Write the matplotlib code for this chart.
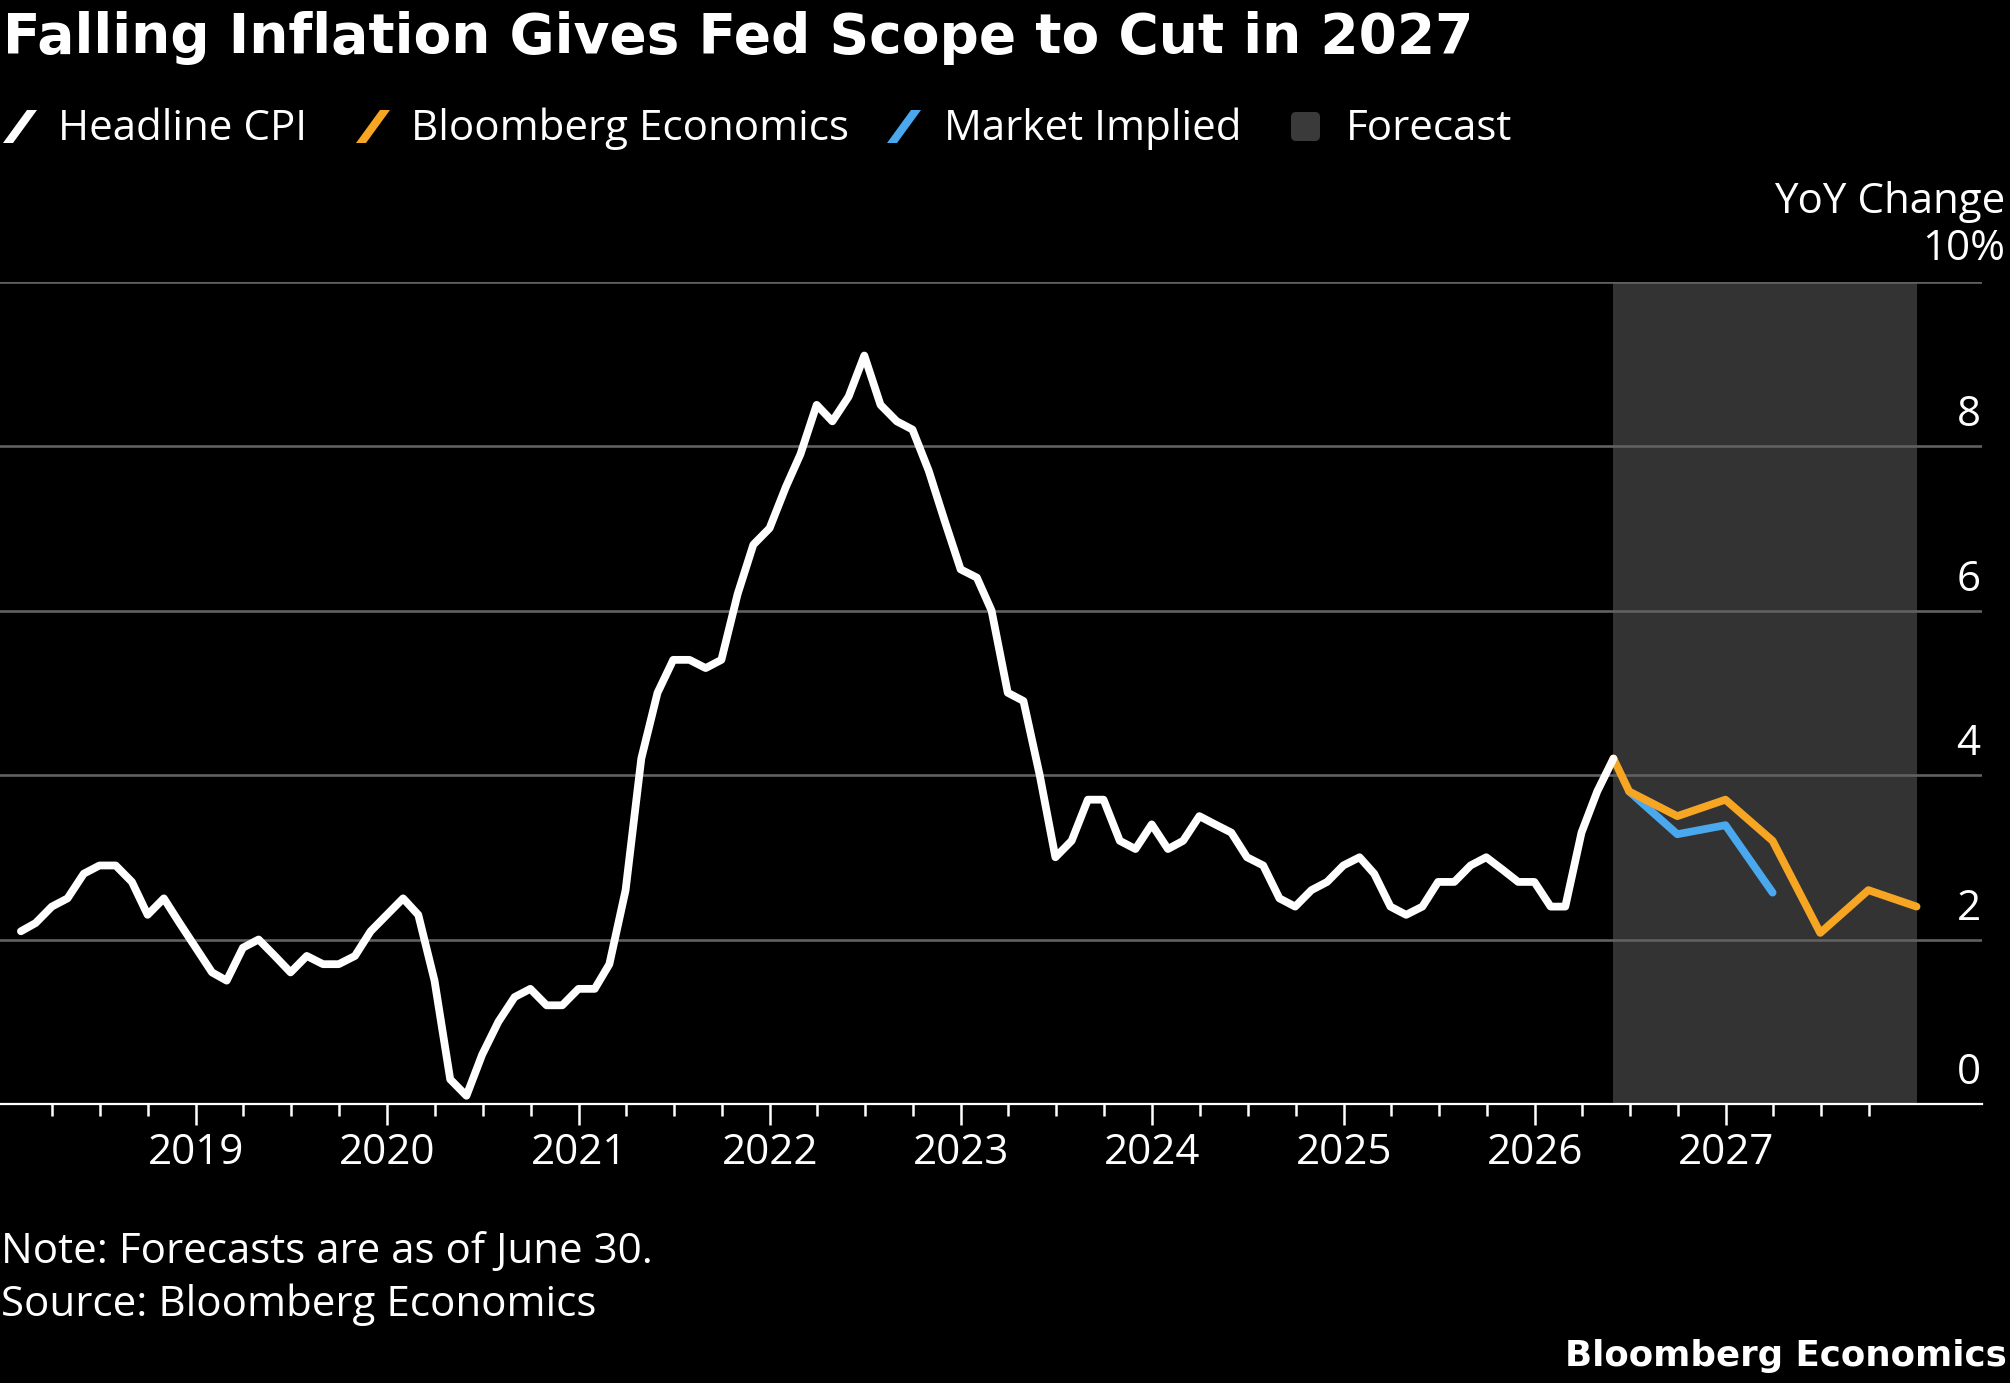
"""Bloomberg-style chart: headline CPI with Bloomberg Economics and market-implied paths."""

import matplotlib

matplotlib.use("Agg")

import matplotlib.dates as mdates
import matplotlib.pyplot as plt
import matplotlib.transforms as mtransforms
import pandas as pd
from matplotlib.patches import FancyBboxPatch, Polygon
from matplotlib.ticker import FixedLocator

# --- data -------------------------------------------------------------------
# Headline CPI, YoY %, monthly from Jan 2018 to May 2026
cpi_start = "2018-01-01"
cpi = [
    2.1, 2.2, 2.4, 2.5, 2.8, 2.9, 2.9, 2.7, 2.3, 2.5, 2.2, 1.9,
    1.6, 1.5, 1.9, 2.0, 1.8, 1.6, 1.8, 1.7, 1.7, 1.8, 2.1, 2.3,
    2.5, 2.3, 1.5, 0.3, 0.1, 0.6, 1.0, 1.3, 1.4, 1.2, 1.2, 1.4,
    1.4, 1.7, 2.6, 4.2, 5.0, 5.4, 5.4, 5.3, 5.4, 6.2, 6.8, 7.0,
    7.5, 7.9, 8.5, 8.3, 8.6, 9.1, 8.5, 8.3, 8.2, 7.7, 7.1, 6.5,
    6.4, 6.0, 5.0, 4.9, 4.0, 3.0, 3.2, 3.7, 3.7, 3.2, 3.1, 3.4,
    3.1, 3.2, 3.5, 3.4, 3.3, 3.0, 2.9, 2.5, 2.4, 2.6, 2.7, 2.9,
    3.0, 2.8, 2.4, 2.3, 2.4, 2.7, 2.7, 2.9, 3.0, 2.85, 2.7, 2.7,
    2.4, 2.4, 3.3, 3.8, 4.2,
]

bbg_months = ["2026-05", "2026-06", "2026-09", "2026-12", "2027-03", "2027-06", "2027-09", "2027-12"]
bbg_forecast = [4.2, 3.8, 3.5, 3.7, 3.2, 2.08, 2.6, 2.4]

market_months = ["2026-06", "2026-09", "2026-12", "2027-03"]
market_implied = [3.8, 3.28, 3.39, 2.57]

year_labels = [str(y) for y in range(2019, 2028)]
y_ticks = [0, 2, 4, 6, 8, 10]

legend_labels = ["Headline CPI", "Bloomberg Economics", "Market Implied", "Forecast"]

# --- style ------------------------------------------------------------------
W, H = 2010, 1383
WHITE = "white"
ORANGE = "#F6A623"
BLUE = "#4AA8EE"
GRID = "#616161"
SHADE = "#333333"
BODY = ["Open Sans", "DejaVu Sans"]
HEAVY = ["DejaVu Sans"]
BODY_SIZE = 30.3
LINE_W = 5.6

plt.rcParams["font.family"] = BODY


def fx(px):
    return px / W


def fy(py):
    return 1 - py / H


def month_end(months):
    return pd.to_datetime(months) + pd.offsets.MonthEnd(0)


cpi_dates = pd.date_range(cpi_start, periods=len(cpi), freq="MS") + pd.offsets.MonthEnd(0)
bbg_dates = month_end(bbg_months)
market_dates = month_end(market_months)

fig = plt.figure(figsize=(W / 100, H / 100), dpi=100, facecolor="black")
ax = fig.add_axes([0, fy(1104), fx(1982), (1104 - 281.5) / H])
ax.set_facecolor("black")

# forecast shading and grid
ax.axvspan(cpi_dates[-1], bbg_dates[-1], color=SHADE, lw=0, zorder=0)
for v in y_ticks[1:]:
    ax.axhline(v, color=GRID, lw=1.9, zorder=1)

ax.plot(market_dates, market_implied, color=BLUE, lw=LINE_W, zorder=3, solid_capstyle="round")
ax.plot(bbg_dates, bbg_forecast, color=ORANGE, lw=LINE_W, zorder=4, solid_capstyle="round")
ax.plot(cpi_dates, cpi, color=WHITE, lw=LINE_W, zorder=5, solid_capstyle="round")

ax.set_ylim(0, 10)
ax.set_xlim(pd.Timestamp("2017-12-22"), pd.Timestamp("2028-05-04"))

for side in ["top", "left", "right"]:
    ax.spines[side].set_visible(False)
ax.spines["bottom"].set_color(WHITE)
ax.spines["bottom"].set_linewidth(1.6)
ax.spines["bottom"].set_zorder(6)

major = pd.date_range("2019-01-01", "2027-01-01", freq="YS")
minor = [d for d in pd.date_range("2018-04-01", "2027-10-01", freq="QS") if d.month != 1]
ax.xaxis.set_major_locator(FixedLocator(mdates.date2num(major)))
ax.xaxis.set_minor_locator(FixedLocator(mdates.date2num(minor)))
ax.set_xticklabels(year_labels)
ax.tick_params(axis="x", which="major", direction="out", length=15, width=1.8,
               color=WHITE, labelcolor=WHITE, labelsize=BODY_SIZE, pad=5)
ax.tick_params(axis="x", which="minor", direction="out", length=8.6, width=1.8, color=WHITE)
ax.tick_params(axis="y", left=False, labelleft=False)

# right-hand value labels sitting above their grid lines
label_trans = mtransforms.offset_copy(
    mtransforms.blended_transform_factory(ax.transAxes, ax.transData),
    fig=fig, x=-1, y=14.4, units="points",
)
for v in y_ticks[:-1]:
    ax.text(1.0, v, str(v), transform=label_trans, ha="right", va="baseline",
            color=WHITE, fontsize=BODY_SIZE, zorder=7)
fig.text(fx(2005), fy(260), f"{y_ticks[-1]}%", ha="right", va="baseline", color=WHITE, fontsize=BODY_SIZE)
fig.text(fx(2005), fy(213), "YoY Change", ha="right", va="baseline", color=WHITE, fontsize=BODY_SIZE)

# title
fig.text(fx(3), fy(53), "Falling Inflation Gives Fed Scope to Cut in 2027", ha="left", va="baseline",
         color=WHITE, fontsize=39.6, fontweight="bold", family=HEAVY)

# legend row
inch = fig.dpi_scale_trans


def slash(x0, color):
    pts = [(x0, 143), (x0 + 10, 143), (x0 + 34, 110), (x0 + 24, 110)]
    fig.add_artist(Polygon([(x / 100, (H - y) / 100) for x, y in pts], closed=True,
                           transform=inch, facecolor=color, edgecolor="none"))


slash(3, WHITE)
slash(356, ORANGE)
slash(887, BLUE)
fig.add_artist(FancyBboxPatch((12.91, (H - 141) / 100), 0.29, 0.29,
                              boxstyle="round,pad=0,rounding_size=0.05",
                              transform=inch, facecolor="#3a3a3a", edgecolor="none"))
for x0, label in zip([58, 411, 944, 1346], legend_labels):
    fig.text(fx(x0), fy(140), label, ha="left", va="baseline", color=WHITE, fontsize=BODY_SIZE)

# footer
fig.text(fx(1), fy(1263), "Note: Forecasts are as of June 30.", ha="left", va="baseline",
         color=WHITE, fontsize=BODY_SIZE)
fig.text(fx(1), fy(1316), "Source: Bloomberg Economics", ha="left", va="baseline",
         color=WHITE, fontsize=BODY_SIZE)
fig.text(fx(2007), fy(1366), "Bloomberg Economics", ha="right", va="baseline",
         color=WHITE, fontsize=25.7, fontweight="bold", family=HEAVY)

fig.savefig("out.png", dpi=100, facecolor="black")
